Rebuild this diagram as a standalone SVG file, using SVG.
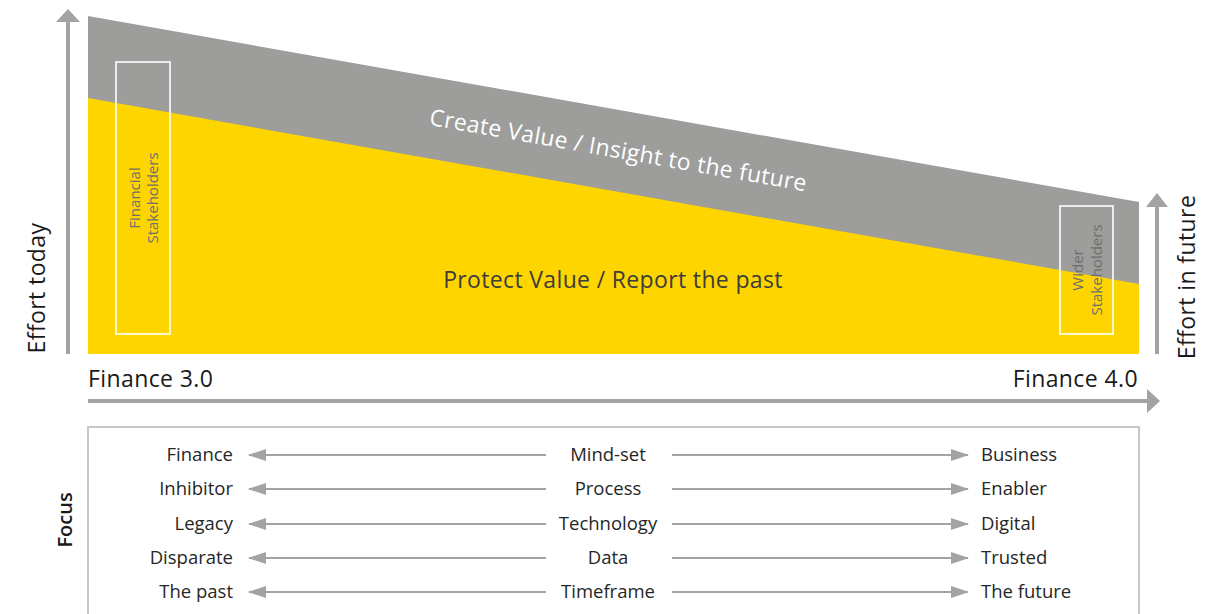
<svg xmlns="http://www.w3.org/2000/svg" width="1224" height="614" viewBox="0 0 1224 614">
  <style>
    text { font-family: "Open Sans", "Liberation Sans", sans-serif; }
    .axis { stroke: #a3a3a3; stroke-width: 4; fill: none; }
    .axis-head { fill: #a3a3a3; }
    .stake { fill: none; stroke: #ffffff; stroke-width: 1.6; }
    .stake-label { font-size: 15px; fill: #6e6e6e; text-anchor: middle; }
    .axis-label { font-size: 23px; fill: #1a1a1a; letter-spacing: 0.4px; }
    .band-label { font-size: 23px; letter-spacing: 0.35px; }
    .row { font-size: 18.5px; fill: #262626; }
    .link { stroke: #a3a3a3; stroke-width: 2; fill: none; }
  </style>
  <defs>
    <marker id="head" markerUnits="userSpaceOnUse" viewBox="0 0 18 12" refX="17" refY="6" markerWidth="18" markerHeight="12" orient="auto">
      <path d="M0,0 L18,6 L0,12 Z" fill="#a3a3a3"/>
    </marker>
  </defs>

  <!-- effort bands -->
  <g id="bands">
    <polygon points="88,16 1139,202 1139,354 88,354" fill="#9d9d9c"/>
    <polygon points="88,98 1139,284 1139,354 88,354" fill="#ffd500"/>
    <text class="band-label" fill="#ffffff" text-anchor="middle" transform="translate(617,158) rotate(10.04)">Create Value / Insight to the future</text>
    <text class="band-label" fill="#3c3c3c" text-anchor="middle" x="613" y="288">Protect Value / Report the past</text>
  </g>

  <!-- stakeholder frames -->
  <g id="financial-stakeholders">
    <rect class="stake" x="116" y="62" width="54" height="272"/>
    <g transform="translate(140,198) rotate(-90)">
      <text class="stake-label" x="0" y="0">Financial</text>
      <text class="stake-label" x="0" y="18">Stakeholders</text>
    </g>
  </g>
  <g id="wider-stakeholders">
    <rect class="stake" x="1060" y="206" width="53" height="128"/>
    <g transform="translate(1083,270) rotate(-90)">
      <text class="stake-label" x="0" y="0">Wider</text>
      <text class="stake-label" x="0" y="19">Stakeholders</text>
    </g>
  </g>

  <!-- axes -->
  <g id="axes">
    <line class="axis" x1="68" y1="354" x2="68" y2="21"/>
    <polygon class="axis-head" points="56,22 80,22 68,9"/>
    <line class="axis" x1="1157" y1="354" x2="1157" y2="206"/>
    <polygon class="axis-head" points="1146,207 1168,207 1157,193"/>
    <line class="axis" x1="88" y1="401" x2="1148" y2="401"/>
    <polygon class="axis-head" points="1147,389 1147,413 1160,401"/>
  </g>

  <g id="axis-labels">
    <text class="axis-label" transform="translate(45,288) rotate(-90)" text-anchor="middle">Effort today</text>
    <text class="axis-label" transform="translate(1195,277) rotate(-90)" text-anchor="middle">Effort in future</text>
    <text class="axis-label" x="88" y="387">Finance 3.0</text>
    <text class="axis-label" x="1138" y="387" text-anchor="end">Finance 4.0</text>
  </g>

  <!-- focus table -->
  <g id="focus-panel">
    <rect x="88" y="427" width="1051" height="200" fill="none" stroke="#c8c8c8" stroke-width="2"/>
    <text transform="translate(72,520) rotate(-90)" text-anchor="middle" font-size="20" font-weight="600" fill="#1a1a1a">Focus</text>
  </g>

  <g id="connectors">
    <line class="link" x1="546" y1="455" x2="249" y2="455" marker-end="url(#head)"/>
    <line class="link" x1="672" y1="455" x2="968" y2="455" marker-end="url(#head)"/>
    <line class="link" x1="546" y1="489" x2="249" y2="489" marker-end="url(#head)"/>
    <line class="link" x1="672" y1="489" x2="968" y2="489" marker-end="url(#head)"/>
    <line class="link" x1="546" y1="524" x2="249" y2="524" marker-end="url(#head)"/>
    <line class="link" x1="672" y1="524" x2="968" y2="524" marker-end="url(#head)"/>
    <line class="link" x1="546" y1="558" x2="249" y2="558" marker-end="url(#head)"/>
    <line class="link" x1="672" y1="558" x2="968" y2="558" marker-end="url(#head)"/>
    <line class="link" x1="546" y1="592" x2="249" y2="592" marker-end="url(#head)"/>
    <line class="link" x1="672" y1="592" x2="968" y2="592" marker-end="url(#head)"/>
  </g>

  <g id="row-mindset">
    <text class="row" x="233" y="461" text-anchor="end">Finance</text>
    <text class="row" x="608" y="461" text-anchor="middle">Mind-set</text>
    <text class="row" x="981" y="461">Business</text>
  </g>
  <g id="row-process">
    <text class="row" x="233" y="495" text-anchor="end">Inhibitor</text>
    <text class="row" x="608" y="495" text-anchor="middle">Process</text>
    <text class="row" x="981" y="495">Enabler</text>
  </g>
  <g id="row-technology">
    <text class="row" x="233" y="530" text-anchor="end">Legacy</text>
    <text class="row" x="608" y="530" text-anchor="middle">Technology</text>
    <text class="row" x="981" y="530">Digital</text>
  </g>
  <g id="row-data">
    <text class="row" x="233" y="564" text-anchor="end">Disparate</text>
    <text class="row" x="608" y="564" text-anchor="middle">Data</text>
    <text class="row" x="981" y="564">Trusted</text>
  </g>
  <g id="row-timeframe">
    <text class="row" x="233" y="598" text-anchor="end">The past</text>
    <text class="row" x="608" y="598" text-anchor="middle">Timeframe</text>
    <text class="row" x="981" y="598">The future</text>
  </g>
</svg>
